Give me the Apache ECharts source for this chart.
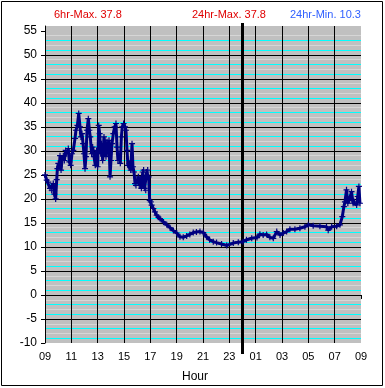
<!DOCTYPE html>
<html>
<head>
<meta charset="utf-8">
<script src="https://cdn.jsdelivr.net/npm/echarts@6/dist/echarts.min.js"></script>
<style>
html,body{margin:0;padding:0;background:#fff;}
#c{width:385px;height:388px;}
</style>
</head>
<body>
<div id="c"></div>
<script>
// hours elapsed since 09:00
const hours = [0,0.13,0.25,0.38,0.51,0.63,0.71,0.81,0.89,0.94,1.01,1.09,1.14,1.22,1.29,1.39,1.47,1.57,1.65,1.77,1.85,1.95,2.05,2.15,2.28,2.35,2.46,2.56,2.66,2.73,2.81,2.89,2.96,3.04,3.11,3.19,3.29,3.37,3.44,3.54,3.62,3.72,3.82,3.92,4.00,4.08,4.15,4.23,4.30,4.38,4.48,4.56,4.63,4.71,4.78,4.86,4.94,5.01,5.09,5.19,5.29,5.39,5.47,5.54,5.62,5.72,5.80,5.87,5.97,6.08,6.15,6.23,6.30,6.41,6.51,6.61,6.68,6.76,6.84,6.91,7.01,7.09,7.16,7.24,7.32,7.42,7.49,7.57,7.65,7.72,7.80,7.87,7.95,8.03,8.10,8.23,8.35,8.48,8.61,8.73,9.0,9.25,9.5,9.75,10.0,10.25,10.5,10.76,11.0,11.26,11.5,11.77,12.02,12.27,12.5,12.78,13.03,13.41,13.8,14.3,14.68,15.03,15.3,15.7,16.1,16.32,16.57,16.83,17.08,17.34,17.6,17.85,18.1,18.35,18.6,18.98,19.36,19.74,20.0,20.37,20.88,21.38,21.51,21.77,22.15,22.4,22.58,22.7,22.78,22.9,23.0,23.1,23.28,23.4,23.5,23.67,23.75,23.84,23.92];
const temps = [25.0,23.9,23.5,22.2,21.8,23.2,21.0,20.0,24.0,26.3,27.4,26.7,29.0,26.0,28.0,29.0,28.0,30.1,29.4,30.5,27.7,27.0,29.4,30.1,32.6,34.3,35.3,37.8,35.0,32.9,33.6,31.5,29.4,26.3,28.8,34.3,36.7,34.3,32.9,29.4,30.8,28.8,27.0,30.1,26.7,35.3,33.6,29.4,31.5,28.0,32.9,31.5,28.8,31.9,29.4,32.2,24.6,28.0,31.5,33.6,35.0,35.7,30.8,28.0,29.4,27.4,32.9,35.0,35.7,35.0,34.3,30.1,27.0,27.4,26.0,31.5,26.7,25.6,23.2,22.8,23.9,24.6,22.8,24.2,22.2,25.6,26.0,22.2,21.8,25.6,26.0,24.6,19.7,19.4,18.7,18.0,17.3,16.6,16.2,15.9,15.2,14.6,14.0,13.4,12.9,12.1,12.0,12.3,12.6,13.0,13.1,13.2,13.0,12.1,11.5,11.1,10.9,10.6,10.3,10.8,11.0,11.1,11.5,11.8,11.95,12.65,12.5,12.6,12.0,11.8,13.2,12.5,12.9,13.2,13.7,13.7,13.9,14.2,14.6,14.4,14.3,14.2,13.5,14.2,14.3,14.6,16.3,18.4,19.4,21.9,19.1,19.7,21.5,19.1,19.4,18.75,20.5,22.6,19.1];
const xTickLabels = ['09','11','13','15','17','19','21','23','01','03','05','07','09'];
const yTickValues = [-10,-5,0,5,10,15,20,25,30,35,40,45,50,55];
const midnight = [15];
const headerTexts = ['6hr-Max. 37.8','24hr-Max. 37.8','24hr-Min. 10.3'];
const yMin = -10, yMax = 56;

// one level per degree, used only for the minor grid lines
const levels = [];
for (let v = yMin; v <= yMax; v++) levels.push(String(v));

const chart = echarts.init(document.getElementById('c'), null, {renderer:'canvas'});
const FONT = 'Liberation Sans';
const plusPath = 'path://M2,0H3V5H2ZM0,2H5V3H0Z';

function minorAxis(color, test){
  return {type:'category', data:levels, boundaryGap:false, position:'left', offset:0,
    axisLine:{show:false}, axisTick:{show:false}, axisLabel:{show:false},
    splitLine:{show:true, interval:function(i){return i < levels.length - 1 && test(i);}, lineStyle:{color:color, width:1}}};
}

chart.setOption({
  animation:false,
  backgroundColor:'#ffffff',
  textStyle:{fontFamily:FONT},
  title:[
    {text:headerTexts[0], left:54, top:9, padding:0, textStyle:{fontSize:11, fontWeight:'normal', color:'#e00000', fontFamily:FONT}},
    {text:headerTexts[1], left:192, top:9, padding:0, textStyle:{fontSize:11, fontWeight:'normal', color:'#e00000', fontFamily:FONT}},
    {text:headerTexts[2], left:290, top:9, padding:0, textStyle:{fontSize:11, fontWeight:'normal', color:'#3060ff', fontFamily:FONT}}
  ],
  graphic:[
    {type:'rect', shape:{x:1.5,y:1.5,width:381,height:384}, style:{fill:'none', stroke:'#000', lineWidth:1}, silent:true}
  ],
  grid:{left:45, right:24, top:26, bottom:45, show:true, backgroundColor:'#c0c0c0', borderWidth:0},
  xAxis:[
    {type:'value', min:0, max:24, interval:1, position:'bottom', z:3,
     axisLine:{show:true, lineStyle:{color:'#000', width:1}},
     axisTick:{show:true, customValues:[0,2,4,6,8,10,12,14,16,18,20,22,24], length:4, lineStyle:{color:'#000'}},
     axisLabel:{customValues:[0,2,4,6,8,10,12,14,16,18,20,22,24], formatter:function(v){return xTickLabels[Math.round(v/2)];}, color:'#000', fontSize:11, fontFamily:FONT, margin:8},
     splitLine:{show:true, showMinLine:false, showMaxLine:false, lineStyle:{color:'#000', width:1}},
     name:'Hour', nameLocation:'middle', nameGap:28, nameTextStyle:{fontSize:12, color:'#000', fontFamily:FONT, padding:[0,16,0,0]}
    },
    {type:'value', min:0, max:24, position:'bottom', offset:0, z:3,
     axisLine:{show:false}, axisLabel:{show:false}, splitLine:{show:false},
     axisTick:{show:true, customValues:midnight, length:11, lineStyle:{color:'#000', width:3}}
    },
    {type:'value', min:0, max:24, position:'top', offset:0, z:3,
     axisLine:{show:false}, axisLabel:{show:false}, splitLine:{show:false},
     axisTick:{show:true, customValues:midnight, length:3, lineStyle:{color:'#000', width:3}}
    }
  ],
  yAxis:[
    minorAxis('#d6d6d6', function(i){return i % 5 === 2 || i % 5 === 4;}),
    minorAxis('#00ffff', function(i){return i % 5 === 1 || i % 5 === 3;}),
    {type:'value', min:yMin, max:yMax, position:'left', offset:0, z:3,
     axisLine:{show:true, lineStyle:{color:'#000', width:1}},
     axisTick:{show:true, customValues:yTickValues, length:4, lineStyle:{color:'#000'}},
     axisLabel:{customValues:yTickValues, color:'#000', fontSize:12, fontFamily:FONT, margin:8},
     splitLine:{show:true, showMinLine:false, showMaxLine:false, lineStyle:{color:'#000', width:1}}
    }
  ],
  series:[
    {type:'line', xAxisIndex:0, yAxisIndex:2, z:5,
     data:hours.map(function(h,i){return [h,temps[i]];}),
     showSymbol:true, showAllSymbol:true, symbol:plusPath, symbolSize:6,
     itemStyle:{color:'#000080'},
     lineStyle:{color:'#000080', width:3},
     markLine:{silent:true, symbol:'none', label:{show:false}, z:4,
       lineStyle:{color:'#000', width:3, type:'solid'},
       data:[{xAxis:midnight[0]}]}
    }
  ]
});
</script>
</body>
</html>
